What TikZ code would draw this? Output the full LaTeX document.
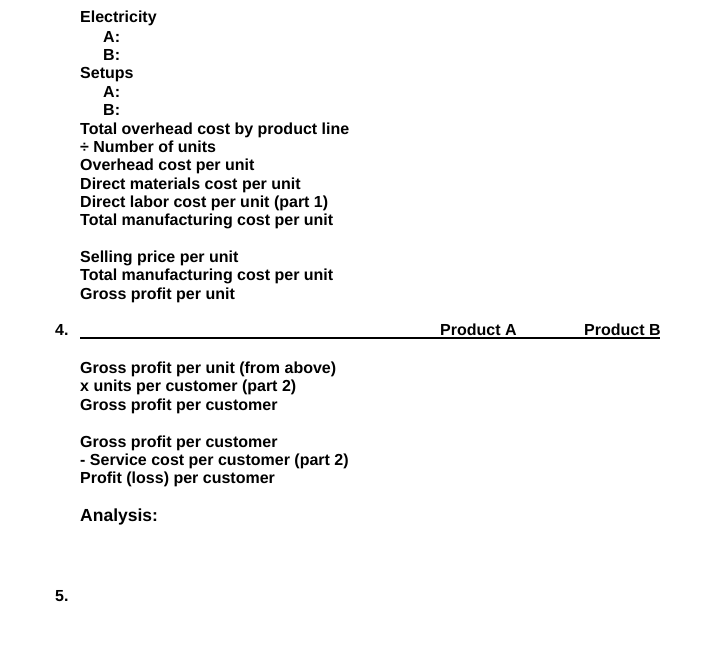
\documentclass[tikz,border=0pt]{standalone}
\usepackage{fontspec}
\setmainfont{Liberation Sans}
\begin{document}
\begin{tikzpicture}[x=1pt,y=-1pt,
  txt/.style={anchor=base west,inner sep=0pt,font=\fontsize{16}{19}\selectfont\bfseries}]
\useasboundingbox (0,0) rectangle (705,653);
\node[txt] (l1) at (80,23) {Electricity};
\node[txt] (l2) at (103,42) {A:};
\node[txt] (l3) at (103,60) {B:};
\node[txt] (l4) at (80,78) {Setups};
\node[txt] (l5) at (103,97) {A:};
\node[txt] (l6) at (103,115) {B:};
\node[txt] (l7) at (80,134) {Total overhead cost by product line};
\node[txt] (l8) at (80,152) {÷ Number of units};
\node[txt] (l9) at (80,170) {Overhead cost per unit};
\node[txt] (l10) at (80,189) {Direct materials cost per unit};
\node[txt] (l11) at (80,207) {Direct labor cost per unit (part 1)};
\node[txt] (l12) at (80,225) {Total manufacturing cost per unit};
\node[txt] (l13) at (80,262) {Selling price per unit};
\node[txt] (l14) at (80,280) {Total manufacturing cost per unit};
\node[txt] (l15) at (80,299) {Gross profit per unit};
\node[txt] (n4) at (55,335) {4.};
\coordinate (r0) at (80,338);
\coordinate (r1) at (660,338);
\draw[line width=1.3pt] (r0) -- (r1);
\node[txt] (pa) at (440,335) {Product A};
\node[txt] (pb) at (584,335) {Product B};
\node[txt] (m1) at (80,373) {Gross profit per unit (from above)};
\node[txt] (m2) at (80,391) {x units per customer (part 2)};
\node[txt] (m3) at (80,410) {Gross profit per customer};
\node[txt] (m4) at (80,447) {Gross profit per customer};
\node[txt] (m5) at (80,465) {- Service cost per customer (part 2)};
\node[txt] (m6) at (80,483) {Profit (loss) per customer};
\node[txt,font=\fontsize{17.5}{21}\selectfont\bfseries] (an) at (80,521) {Analysis:};
\node[txt] (n5) at (55,601) {5.};
\end{tikzpicture}
\end{document}
